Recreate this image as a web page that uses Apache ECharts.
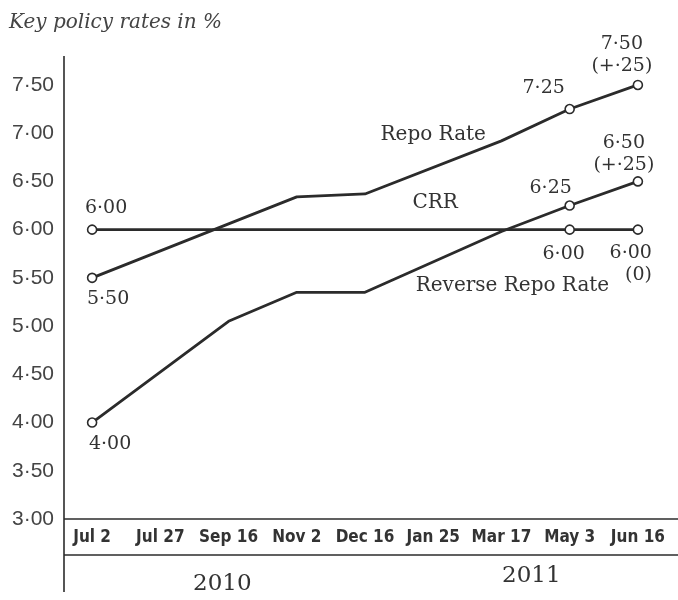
<!DOCTYPE html>
<html>
<head>
<meta charset="utf-8">
<title>Key policy rates</title>
<script src="https://cdn.jsdelivr.net/npm/echarts@6/dist/echarts.min.js"></script>
<style>
  html, body { margin: 0; padding: 0; background: #ffffff; }
  #chart { width: 678px; height: 600px; }
</style>
</head>
<body>
<div id="chart"></div>
<script>
// Policy dates (2010 – 2011)
const categories = ['Jul 2', 'Jul 27', 'Sep 16', 'Nov 2', 'Dec 16', 'Jan 25', 'Mar 17', 'May 3', 'Jun 16'];
const years = ['2010', '2011'];

// Rates in %, null where the line simply passes through
const repoRate        = [5.50, null, null, 6.34, 6.37, null, 6.92, 7.25, 7.50];
const reverseRepoRate = [4.00, null, 5.05, 5.35, 5.35, null, 5.98, 6.25, 6.50];
const crrRate         = [6.00, null, null, null, null, null, null, 6.00, 6.00];

// Value call-outs printed next to the rings
const repoLabels    = ['5·50', null, null, null, null, null, null, '7·25', '7·50\n(+·25)'];
const reverseLabels = ['4·00', null, null, null, null, null, null, '6·25', '6·50\n(+·25)'];
const crrLabels     = ['6·00', null, null, null, null, null, null, '6·00', '6·00\n(0)'];

// y-axis ticks
const yMin = 3.0, yMax = 7.8, yStep = 0.5;

const INK = '#2b2b2b';
const SERIF = '"DejaVu Serif", "Liberation Serif", serif';
const SANS = '"Liberation Sans", Arial, sans-serif';
const NARROW = '"Liberation Sans Narrow", "DejaVu Sans Condensed", "Roboto", sans-serif';

const fmt = s => s.replace('.', '·');

// placement of each call-out relative to its ring
const place = {
  repo:    { 0: { position: 'bottom', offset: [16, 0] },
             7: { position: 'top', offset: [-26, 0] },
             8: { position: 'top', offset: [-16, 2] } },
  reverse: { 0: { position: 'bottom', offset: [18, 0] },
             7: { position: 'top', offset: [-19, 4] },
             8: { position: 'top', offset: [-14, 5] } },
  crr:     { 0: { position: 'top', offset: [14, 0] },
             7: { position: 'bottom', offset: [-6, 3] },
             8: { position: 'bottom', offset: [14, 2], align: 'right' } }
};

function buildData(values, labels, key) {
  return values.map((v, i) => {
    if (v === null) return null;
    const txt = labels[i];
    if (!txt) return { value: v, symbol: 'none' };
    const p = place[key][i] || { position: 'top', offset: [0, 0] };
    return {
      value: v,
      symbol: 'circle',
      label: Object.assign({
        show: true,
        formatter: txt,
        fontFamily: SERIF,
        fontSize: 19,
        lineHeight: 22,
        color: '#333'
      }, p)
    };
  });
}

function nameTag(text, coord, offset) {
  return {
    symbol: 'circle',
    symbolSize: 0,
    silent: true,
    label: {
      show: true,
      position: 'inside',
      formatter: text,
      fontFamily: SERIF,
      fontSize: 20,
      color: '#333',
      offset: offset || [0, 0]
    },
    data: [{ coord: coord }]
  };
}

function lineSeries(name, values, labels, key, tag) {
  return {
    name: name,
    type: 'line',
    connectNulls: true,
    symbol: 'circle',
    symbolSize: 9,
    showSymbol: true,
    itemStyle: { color: '#ffffff', borderColor: INK, borderWidth: 1.6 },
    lineStyle: { color: INK, width: 2.8 },
    emphasis: { disabled: true },
    z: 3,
    data: buildData(values, labels, key),
    markPoint: tag
  };
}

const chart = echarts.init(document.getElementById('chart'), null, { renderer: 'canvas' });

const gridLeft = 58, gridRight = 6, gridTop = 56, gridBottom = 81;
const axisX = 64;
const baseY = 600 - gridBottom;

chart.setOption({
  animation: false,
  backgroundColor: '#ffffff',
  title: {
    text: 'Key policy rates in %',
    left: 4,
    top: 8,
    textStyle: { fontFamily: SERIF, fontStyle: 'italic', fontWeight: 'normal', fontSize: 20, color: '#444' }
  },
  grid: { left: gridLeft, right: gridRight, top: gridTop, bottom: gridBottom },
  xAxis: {
    type: 'category',
    data: categories,
    boundaryGap: true,
    axisLine: { show: false },
    axisTick: { show: false },
    axisLabel: {
      margin: 10,
      interval: 0,
      fontFamily: NARROW,
      fontWeight: 'bold',
      fontSize: 17,
      color: '#333'
    },
    splitLine: { show: false }
  },
  yAxis: {
    type: 'value',
    min: yMin,
    max: yMax,
    interval: yStep,
    axisLine: { show: false },
    axisTick: { show: false },
    splitLine: { show: false },
    axisLabel: {
      margin: 4,
      showMaxLabel: false,
      fontFamily: SANS,
      fontSize: 21,
      color: '#444',
      formatter: v => (Math.abs(v / yStep - Math.round(v / yStep)) < 1e-6) ? fmt(v.toFixed(2)) : ''
    }
  },
  graphic: [
    { type: 'line', shape: { x1: axisX, y1: gridTop, x2: axisX, y2: 592 }, style: { stroke: INK, lineWidth: 1.6 }, silent: true },
    { type: 'line', shape: { x1: axisX, y1: baseY, x2: 678, y2: baseY }, style: { stroke: INK, lineWidth: 1.6 }, silent: true },
    { type: 'line', shape: { x1: axisX, y1: 555, x2: 678, y2: 555 }, style: { stroke: INK, lineWidth: 1.6 }, silent: true },
    { type: 'text', left: 193, top: 573, style: { text: years[0], font: '23px ' + SERIF, fill: '#333' }, silent: true },
    { type: 'text', left: 502, top: 565, style: { text: years[1], font: '23px ' + SERIF, fill: '#333' }, silent: true }
  ],
  series: [
    lineSeries('Repo Rate', repoRate, repoLabels, 'repo', nameTag('Repo Rate', ['Jan 25', 6.98])),
    lineSeries('CRR', crrRate, crrLabels, 'crr', nameTag('CRR', ['Jan 25', 6.28], [2, 0])),
    lineSeries('Reverse Repo Rate', reverseRepoRate, reverseLabels, 'reverse', nameTag('Reverse Repo Rate', ['Mar 17', 5.42], [11, 0]))
  ]
});
</script>
</body>
</html>
